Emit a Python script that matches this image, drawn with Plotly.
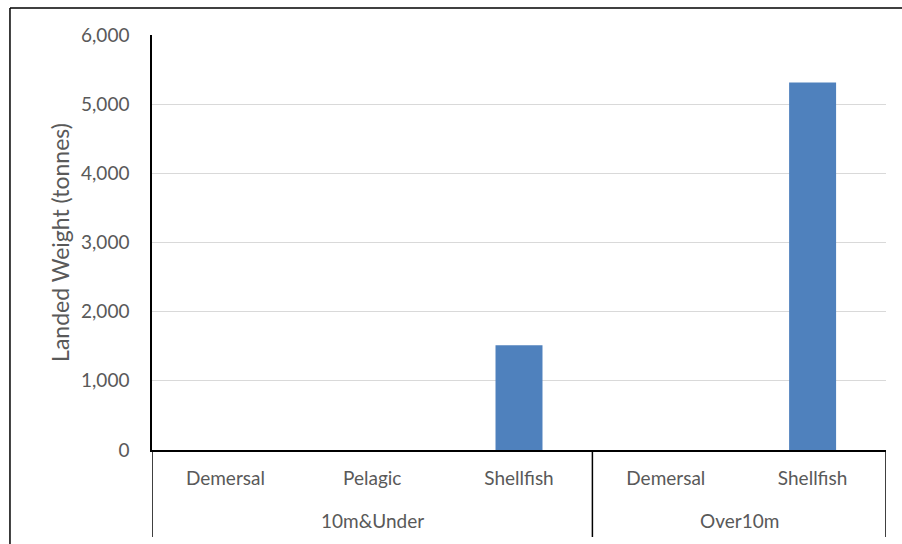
import plotly.graph_objects as go

groups = ["10m&Under", "10m&Under", "10m&Under", "Over10m", "Over10m"]
species = ["Demersal", "Pelagic", "Shellfish", "Demersal", "Shellfish"]
weights = [0, 0, 1515, 0, 5315]
y_ticks = [0, 1000, 2000, 3000, 4000, 5000, 6000]
y_tick_labels = ["0", "1,000", "2,000", "3,000", "4,000", "5,000", "6,000"]

FONT = "Lato"
GREY = "#595959"
idx = list(range(len(species)))

fig = go.Figure(go.Bar(
    x=idx, y=weights,
    marker=dict(color="#4f81bd", line=dict(width=0)),
    width=0.32,
))

fig.update_layout(
    width=902, height=544,
    margin=dict(l=152, r=16, t=35, b=94),
    paper_bgcolor="white", plot_bgcolor="white",
    showlegend=False,
    font=dict(family=FONT, size=20, color=GREY),
)
fig.update_yaxes(
    range=[0, 6000], tickvals=y_ticks, ticktext=y_tick_labels,
    showgrid=True, gridcolor="#d9d9d9", gridwidth=1,
    showline=True, linecolor="black", linewidth=1.5,
    ticks="", ticklabelstandoff=17,
    tickfont=dict(family=FONT, size=19, color=GREY),
    zeroline=False,
    title=dict(text="Landed Weight (tonnes)", font=dict(family=FONT, size=23, color=GREY), standoff=5),
)
fig.update_xaxes(
    range=[-0.5, len(species) - 0.5],
    tickvals=idx, ticktext=species,
    showline=True, linecolor="black", linewidth=1.5,
    ticks="", ticklabelstandoff=10,
    tickfont=dict(family=FONT, size=19, color=GREY),
    showgrid=False, zeroline=False,
)

# group labels and dividers, derived from the group list
bounds = [-0.5]
order = []
for i, g in enumerate(groups):
    if not order or order[-1][0] != g:
        order.append([g, i, i])
    else:
        order[-1][2] = i
for g, a, b in order:
    bounds.append(b + 0.5)
    fig.add_annotation(x=(a + b) / 2, y=-0.171, xref="x", yref="paper", text=g,
                       showarrow=False, yanchor="middle",
                       font=dict(family=FONT, size=19, color=GREY))
for bx in bounds:
    fig.add_shape(type="line", xref="x", yref="paper", x0=bx, x1=bx, y0=0, y1=-0.2096,
                  line=dict(color="black", width=1.5))

# outer chart frame (left and top edges)
fig.add_shape(type="line", xref="paper", yref="paper", x0=-0.1935, x1=1.1, y0=1.0651, y1=1.0651,
              line=dict(color="black", width=1.5))
fig.add_shape(type="line", xref="paper", yref="paper", x0=-0.1935, x1=-0.1935, y0=1.0651, y1=-0.3,
              line=dict(color="black", width=1.5))

fig.write_html(
    "out.html",
    config={"displayModeBar": False},
    post_script="document.body.style.margin='0';document.body.style.overflow='hidden';",
)
